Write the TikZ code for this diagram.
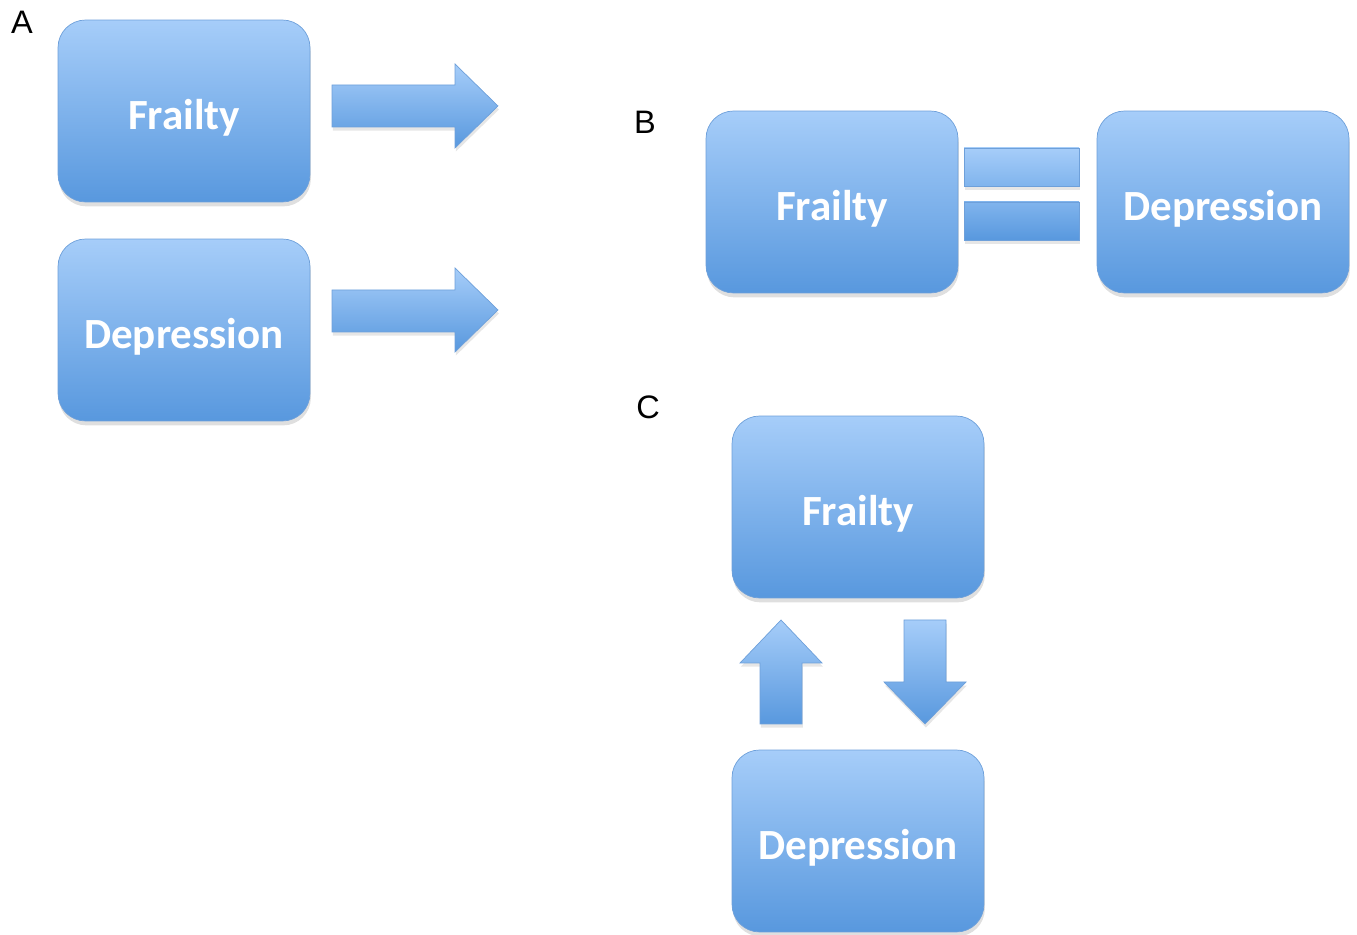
\documentclass[tikz,border=0pt]{standalone}
\usepackage{fontspec}
\setmainfont{Carlito}
\newfontfamily\panelfont{Liberation Sans}
\usepackage{tikz}
\usetikzlibrary{shadows}

\definecolor{boxtop}{RGB}{166,205,249}
\definecolor{boxmid}{RGB}{128,180,237}
\definecolor{boxbot}{RGB}{88,152,222}
\definecolor{boxedge}{RGB}{110,160,218}

\tikzset{
  factor/.style={rectangle, rounded corners=0.55cm,
    minimum width=5.04cm, minimum height=3.64cm,
    text height=21pt, text depth=0pt,
    top color=boxtop, bottom color=boxbot, draw=boxedge, line width=0.4pt,
    drop shadow={opacity=0.25, shadow xshift=0.5pt, shadow yshift=-2.5pt},
    text=white, font=\fontsize{24.5}{28}\selectfont\bfseries},
  blockarrow/.style={top color=boxtop, bottom color=boxbot, draw=boxedge,
    line width=0.4pt, line join=miter,
    drop shadow={opacity=0.2, shadow xshift=0.5pt, shadow yshift=-2pt}},
  panel/.style={font=\panelfont\fontsize{18.5}{22}\selectfont, text=black}
}

\begin{document}
\begin{tikzpicture}[x=0.02cm,y=-0.02cm]
  \useasboundingbox (0,0) rectangle (1357,935);

  % panel A
  \node[panel] (labA) at (22,22) {A};
  \node[factor] (fA) at (184,111) {Frailty};
  \node[factor] (dA) at (184,330) {Depression};
  \draw[blockarrow]
    (332,85) -- (455,85) -- (455,64) -- (498,106)
    -- (455,148) -- (455,127) -- (332,127) -- cycle;
  \draw[blockarrow]
    (332,290) -- (455,290) -- (455,268) -- (498,310)
    -- (455,352) -- (455,332) -- (332,332) -- cycle;

  % panel B
  \node[panel] (labB) at (645,122) {B};
  \node[factor] (fB) at (832,202) {Frailty};
  \node[factor] (dB) at (1223,202) {Depression};
  \draw[blockarrow, top color=boxtop, bottom color=boxmid]
    (964,148) rectangle (1079,186);
  \draw[blockarrow, top color=boxmid, bottom color=boxbot]
    (964,202) rectangle (1079,240);

  % panel C
  \node[panel] (labC) at (648,407) {C};
  \node[factor] (fC) at (858,507) {Frailty};
  \node[factor] (dC) at (858,841) {Depression};
  \draw[blockarrow]
    (760,724) -- (760,663) -- (740,663) -- (781,620)
    -- (822,663) -- (802,663) -- (802,724) -- cycle;
  \draw[blockarrow]
    (904,620) -- (946,620) -- (946,682) -- (966,682)
    -- (925,724) -- (884,682) -- (904,682) -- cycle;
\end{tikzpicture}
\end{document}
